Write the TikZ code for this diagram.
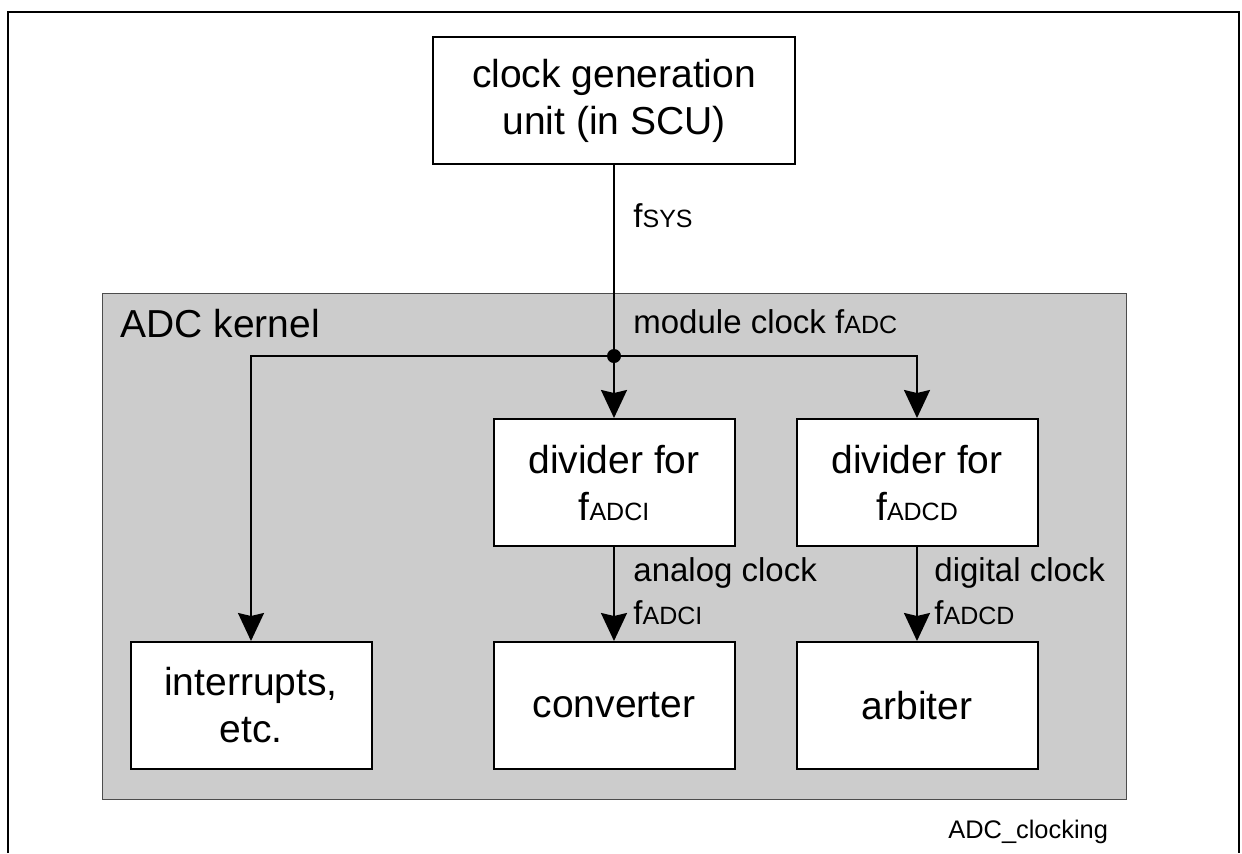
\documentclass[tikz,border=0pt]{standalone}
\usepackage{fontspec}
\setmainfont{Liberation Sans}
\usetikzlibrary{arrows.meta,positioning}

% frequency with small upright index on the baseline
\newcommand{\fsub}[1]{f{\fontsize{12.5}{12.5}\selectfont #1}}

\begin{document}
\begin{tikzpicture}[
  x=0.5pt, y=-0.5pt,
  node distance=47pt and 30pt,
  box/.style={draw, fill=white, line width=1pt, align=center, minimum width=120.5pt, minimum height=63.5pt, inner sep=2pt, font=\fontsize{19.5}{23.5}\selectfont},
  lbl/.style={inner sep=0pt, align=left, font=\fontsize{16.5}{21.5}\selectfont},
  arrow/.style={-{Stealth[length=14pt,width=13pt,inset=1.5pt]}, line width=1pt},
  kernel/.style={fill=black!20, draw=black!70, line width=0.5pt}
]
\useasboundingbox (0,0) rectangle (1242,853);
% page frame, open at the bottom
\draw[line width=1pt] (8,853) -- (8,12) -- (1239,12) -- (1239,853);
\draw[kernel] (102,293) rectangle (1126,799);
\node[anchor=base west, inner sep=0pt, font=\fontsize{19.5}{23.5}\selectfont] (kname) at (120,337) {ADC kernel};

\node[box] (divI) at (614,482.5) {divider for\\\fsub{ADCI}};
\node[box, right=of divI] (divD) {divider for\\\fsub{ADCD}};
\node[box, below=of divI] (conv) {converter};
\node[box, below=of divD] (arb) {arbiter};
\node[box, left=60pt of conv] (intr) {interrupts,\\etc.};
\node[box, minimum width=181pt, above=126.5pt of divI] (cgu) {clock generation\\unit (in SCU)};
\coordinate (junc) at (614,356);

\node[lbl, anchor=base west] (fsys) at (633,227) {\fsub{SYS}};
\node[lbl, anchor=base west] (fadc) at (633,333) {module clock \fsub{ADC}};
\node[lbl, anchor=north west] (aclk) at (633,557) {analog clock\\\fsub{ADCI}};
\node[lbl, anchor=north west] (dclk) at (934,557) {digital clock\\\fsub{ADCD}};
\node[anchor=base west, inner sep=0pt, font=\fontsize{12.7}{14}\selectfont] (figid) at (948,838) {ADC\_clocking};

\draw[arrow] (cgu) -- (divI);
\draw[arrow] (junc) -| (intr);
\draw[arrow] (junc) -| (divD);
\draw[arrow] (divI) -- (conv);
\draw[arrow] (divD) -- (arb);
\fill (junc) circle[radius=3.5pt];
\end{tikzpicture}
\end{document}
